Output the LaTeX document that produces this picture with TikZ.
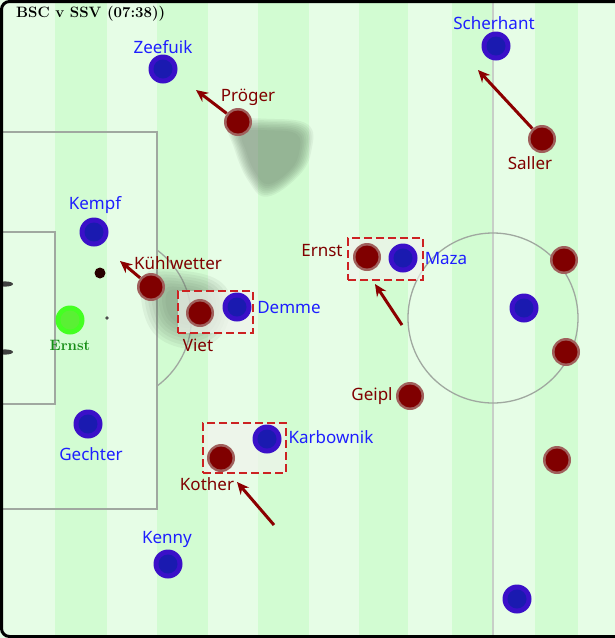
\documentclass[tikz,border=0pt]{standalone}
\usepackage{fontspec}
\newfontfamily\labelfont{Noto Sans}
\usetikzlibrary{arrows.meta}
\definecolor{stripeA}{RGB}{230,253,230}
\definecolor{stripeB}{RGB}{210,252,210}
\definecolor{lineG}{RGB}{160,168,160}
\definecolor{midG}{RGB}{200,206,200}
\definecolor{redOut}{RGB}{160,96,92}
\definecolor{redIn}{RGB}{128,0,0}
\definecolor{blueOut}{RGB}{58,16,200}
\definecolor{blueIn}{RGB}{26,26,176}
\definecolor{greenOut}{RGB}{68,255,34}
\definecolor{greenIn}{RGB}{90,240,52}
\definecolor{blueTxt}{RGB}{30,30,255}
\definecolor{redTxt}{RGB}{128,0,0}
\definecolor{arrowRed}{RGB}{139,0,0}
\definecolor{boxRed}{RGB}{204,34,34}
\definecolor{boxFill}{RGB}{240,243,236}
\definecolor{shadowG}{RGB}{100,122,100}
\definecolor{ernstTxt}{RGB}{20,140,20}
\definecolor{ballC}{RGB}{40,0,0}
\tikzset{
  redp/.style={circle, inner sep=0pt, minimum size=28pt, fill=redOut,
    path picture={\fill[redIn] (path picture bounding box.center) circle (11.5pt);}},
  bluep/.style={circle, inner sep=0pt, minimum size=29pt, fill=blueOut,
    path picture={\fill[blueIn] (path picture bounding box.center) circle (9.5pt);}},
  greenp/.style={circle, inner sep=0pt, minimum size=29pt, fill=greenOut,
    path picture={\fill[greenIn] (path picture bounding box.center) circle (9.5pt);}},
  bluelab/.style={text=blueTxt, inner sep=0pt, font=\labelfont\fontsize{17}{20}\selectfont},
  redlab/.style={text=redTxt, inner sep=0pt, font=\labelfont\fontsize{17}{20}\selectfont},
  mvarrow/.style={draw=arrowRed, line width=3pt, -{Stealth[length=12pt,width=11pt]}},
  pairbox/.style={draw=boxRed, line width=1.6pt, dash pattern=on 8pt off 4pt,
    fill=boxFill, fill opacity=0.7, inner sep=0pt},
  pline/.style={draw=lineG, line width=1.3pt},
}
\begin{document}
\begin{tikzpicture}[x=1pt,y=-1pt]
\useasboundingbox (0,0) rectangle (615,638);
% stripes
\foreach \a/\b/\c in {0/55/stripeA,55/107/stripeB,107/157/stripeA,157/208/stripeB,
  208/258/stripeA,258/309/stripeB,309/359/stripeA,359/408/stripeB,408/452/stripeA,
  452/493/stripeB,493/535/stripeA,535/578/stripeB,578/615/stripeA}
  \fill[\c] (\a,0) rectangle (\b,638);
% pitch markings
\draw[draw=midG, line width=1.5pt] (493,0) -- (493,638);
\draw[pline] (3,132) -- (157,132) -- (157,509) -- (3,509);
\draw[pline] (3,232) -- (55,232) -- (55,404) -- (3,404);
\draw[pline] (157,250) arc[start angle=53.7, end angle=-53.7, radius=84.4pt];
\draw[pline] (493,318) circle (85pt);
\fill[black!70] (107,318) circle (1.8pt);
\fill[black!75] (5,284) ellipse (8pt and 2.6pt);
\fill[black!75] (5,352) ellipse (8pt and 2.6pt);
% shadows
\begin{scope}[shift={(272,156)}]
\foreach \s in {1.16,1.11,1.06,1.01,0.96,0.91,0.86,0.8}
  \fill[shadowG, opacity=0.09, scale=\s] plot[smooth cycle, tension=0.7]
    coordinates {(-36,-29) (-2,-32) (31,-27) (34,-5) (23,17) (-4,35) (-20,22) (-32,-5)};
\end{scope}
\begin{scope}[shift={(185,306)}]
\foreach \s in {1.25,1.15,1.05,0.95,0.85,0.75,0.65,0.55}
  \fill[shadowG, opacity=0.085, scale=\s] plot[smooth cycle, tension=0.7]
    coordinates {(-32,-25) (0,-28) (30,-18) (36,5) (24,28) (-5,33) (-30,14)};
\end{scope}
% boxes
\node[pairbox, minimum width=75pt, minimum height=42pt] (boxViet) at (215.5,312) {};
\node[pairbox, minimum width=75pt, minimum height=42pt] (boxErnst) at (385.5,259) {};
\node[pairbox, minimum width=83pt, minimum height=50pt] (boxKother) at (244.5,448) {};
% ball
\fill[ballC] (100,273) circle (5.5pt);
% players blue
\node[bluep] (zeefuik) at (163,69) {};
\node[bluep] (scherhant) at (496,46) {};
\node[bluep] (kempf) at (94,232) {};
\node[bluep] (demme) at (237,307) {};
\node[bluep] (maza) at (403,258) {};
\node[bluep] (karbownik) at (267,439) {};
\node[bluep] (gechter) at (88,424) {};
\node[bluep] (kenny) at (168,564) {};
\node[bluep] (blueA) at (524,308) {};
\node[bluep] (blueB) at (517,599) {};
% players red
\node[redp] (proger) at (238,122) {};
\node[redp] (saller) at (542,139) {};
\node[redp] (kuhl) at (151,287) {};
\node[redp] (viet) at (200,313) {};
\node[redp] (ernstR) at (367,257) {};
\node[redp] (kother) at (221,458) {};
\node[redp] (geipl) at (410,396) {};
\node[redp] (redA) at (564,260) {};
\node[redp] (redB) at (566,352) {};
\node[redp] (redC) at (557,460) {};
% goalkeeper
\node[greenp] (ernstG) at (70,320) {};
% arrows
\coordinate (progerT) at (196,90);
\coordinate (sallerT) at (478,70);
\coordinate (kuhlT) at (120,261);
\coordinate (ernstTail) at (402,325);
\coordinate (ernstTip) at (375,284);
\coordinate (kotherTail) at (274,525);
\coordinate (kotherTip) at (237,482);
\draw[mvarrow] (proger) -- (progerT);
\draw[mvarrow] (saller) -- (sallerT);
\draw[mvarrow] (kuhl) -- (kuhlT);
\draw[mvarrow] (ernstTail) -- (ernstTip);
\draw[mvarrow] (kotherTail) -- (kotherTip);
% labels
\node[bluelab] (zeefuikL) at (163,47) {Zeefuik};
\node[bluelab] (scherhantL) at (494,23) {Scherhant};
\node[bluelab] (kempfL) at (95,205) {Kempf};
\node[bluelab] (demmeL) at (289,308) {Demme};
\node[bluelab] (mazaL) at (446,259) {Maza};
\node[bluelab] (karbownikL) at (331,437) {Karbownik};
\node[bluelab] (gechterL) at (91,454) {Gechter};
\node[bluelab] (kennyL) at (167,539) {Kenny};
\node[redlab] (progerL) at (248,97) {Pröger};
\node[redlab] (sallerL) at (530,163) {Saller};
\node[redlab] (kuhlL) at (178,263) {Kühlwetter};
\node[redlab] (vietL) at (198,345) {Viet};
\node[redlab] (ernstRL) at (322,251) {Ernst};
\node[redlab] (kotherL) at (207,484) {Kother};
\node[redlab] (geiplL) at (372,396) {Geipl};
% goalkeeper label
\node[text=ernstTxt, inner sep=0pt, font=\fontsize{15}{17}\selectfont\bfseries] (ernstGL) at (70,345) {Ernst};
% title
\node[anchor=west, inner sep=0pt, font=\fontsize{15}{17}\selectfont\bfseries] (title) at (16,14)
  {BSC v SSV (\oldstylenums{07}:\oldstylenums{38}))};
% frame
\draw[black, line width=3pt, rounded corners=8pt] (616,1.5) -- (1.5,1.5) -- (1.5,636.5) -- (616,636.5);
\end{tikzpicture}
\end{document}
